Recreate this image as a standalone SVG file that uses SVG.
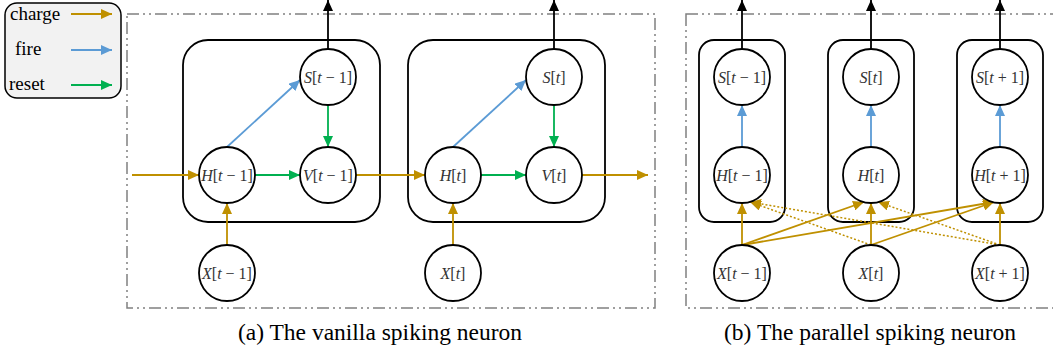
<svg xmlns="http://www.w3.org/2000/svg" width="1053" height="351" viewBox="0 0 1053 351">
<style>
.frame{fill:none;stroke:#808080;stroke-width:1.5;stroke-dasharray:12 4 2 4 2 4}
.cell{fill:none;stroke:#000;stroke-width:1.8}
.node{fill:#fff;stroke:#000;stroke-width:1.8}
.m{font-family:"Liberation Serif","Times New Roman",serif;font-size:16px;fill:#333;text-anchor:middle}
.i{font-style:italic}
.lg{font-family:"Liberation Serif","Times New Roman",serif;font-size:19px;fill:#000}
.cap{font-family:"Liberation Serif","Times New Roman",serif;font-size:23.5px;fill:#000;text-anchor:middle}
.out{stroke:#000;stroke-width:1.8;fill:none;marker-end:url(#ak)}
.ch{stroke:#BF9000;stroke-width:1.8;fill:none;marker-end:url(#ac)}
.chd{stroke:#BF9000;stroke-width:1.5;fill:none;stroke-dasharray:2 2;marker-end:url(#ac)}
.fi{stroke:#5B9BD5;stroke-width:1.8;fill:none;marker-end:url(#af)}
.re{stroke:#00B050;stroke-width:1.8;fill:none;marker-end:url(#ar)}
</style>
<defs>
<marker id="ak" markerUnits="userSpaceOnUse" markerWidth="12" markerHeight="10" refX="11" refY="5" orient="auto"><path d="M0,0 L11,5 L0,10 Z" fill="#000"/></marker>
<marker id="ac" markerUnits="userSpaceOnUse" markerWidth="12" markerHeight="10" refX="11" refY="5" orient="auto"><path d="M0,0 L11,5 L0,10 Z" fill="#BF9000"/></marker>
<marker id="af" markerUnits="userSpaceOnUse" markerWidth="12" markerHeight="10" refX="11" refY="5" orient="auto"><path d="M0,0 L11,5 L0,10 Z" fill="#5B9BD5"/></marker>
<marker id="ar" markerUnits="userSpaceOnUse" markerWidth="12" markerHeight="10" refX="11" refY="5" orient="auto"><path d="M0,0 L11,5 L0,10 Z" fill="#00B050"/></marker>
</defs>
<rect width="1053" height="351" fill="#fff"/>

<!-- legend -->
<g id="legend">
<rect x="5" y="3" width="116" height="95" rx="12" fill="#f2f2f2" stroke="#000" stroke-width="1.5"/>
<text class="lg" x="10" y="20">charge</text>
<text class="lg" x="15" y="55">fire</text>
<text class="lg" x="9" y="90">reset</text>
<line class="ch" x1="71" y1="14" x2="112" y2="14"/>
<line class="fi" x1="71" y1="50" x2="112" y2="50"/>
<line class="re" x1="71" y1="85" x2="112" y2="85"/>
</g>

<!-- frames -->
<g id="frames">
<rect class="frame" x="127" y="14" width="528" height="294"/>
<rect class="frame" x="686" y="14" width="370" height="294"/>
</g>

<!-- cells -->
<g id="cells">
<rect id="cell-a1" class="cell" x="183" y="40" width="197" height="182" rx="25"/>
<rect id="cell-a2" class="cell" x="408" y="40" width="197" height="182" rx="25"/>
<rect id="cell-b1" class="cell" x="699" y="40" width="86" height="182" rx="15"/>
<rect id="cell-b2" class="cell" x="828" y="40" width="86" height="182" rx="15"/>
<rect id="cell-b3" class="cell" x="957" y="40" width="86" height="182" rx="15"/>
</g>

<!-- connectors -->
<g id="connectors">
<!-- (a) -->
<line class="out" x1="328" y1="49" x2="328" y2="0"/>
<line class="out" x1="554" y1="49" x2="554" y2="0"/>
<line class="ch" x1="132" y1="175" x2="199" y2="175"/>
<line class="ch" x1="356" y1="175" x2="425" y2="175"/>
<line class="ch" x1="582" y1="175" x2="648" y2="175"/>
<line class="ch" x1="227" y1="245" x2="227" y2="203"/>
<line class="ch" x1="453" y1="245" x2="453" y2="203"/>
<line class="fi" x1="227" y1="147" x2="300" y2="80"/>
<line class="fi" x1="453" y1="147" x2="526" y2="80"/>
<line class="re" x1="255" y1="175" x2="300" y2="175"/>
<line class="re" x1="481" y1="175" x2="526" y2="175"/>
<line class="re" x1="328" y1="105" x2="328" y2="147"/>
<line class="re" x1="554" y1="105" x2="554" y2="147"/>
<!-- (b) -->
<line class="out" x1="742" y1="49" x2="742" y2="0"/>
<line class="out" x1="871" y1="49" x2="871" y2="0"/>
<line class="out" x1="1000" y1="49" x2="1000" y2="0"/>
<line class="fi" x1="742" y1="147" x2="742" y2="105"/>
<line class="fi" x1="871" y1="147" x2="871" y2="105"/>
<line class="fi" x1="1000" y1="147" x2="1000" y2="105"/>
<line class="ch" x1="742" y1="245" x2="742" y2="203"/>
<line class="ch" x1="871" y1="245" x2="871" y2="203"/>
<line class="ch" x1="1000" y1="245" x2="1000" y2="203"/>
<line class="ch" x1="742" y1="245" x2="864" y2="202"/>
<line class="ch" x1="742" y1="245" x2="994" y2="202"/>
<line class="ch" x1="871" y1="245" x2="994" y2="202"/>
<line class="chd" x1="871" y1="245" x2="750" y2="202"/>
<line class="chd" x1="1000" y1="245" x2="750" y2="202"/>
<line class="chd" x1="1000" y1="245" x2="878" y2="202"/>
</g>

<!-- nodes (a) -->
<g id="a-S1"><circle class="node" cx="328" cy="77" r="28"/><text class="m" x="328" y="83"><tspan class="i">S</tspan>[<tspan class="i">t</tspan> − 1]</text></g>
<g id="a-H1"><circle class="node" cx="227" cy="175" r="28"/><text class="m" x="227" y="181"><tspan class="i">H</tspan>[<tspan class="i">t</tspan> − 1]</text></g>
<g id="a-V1"><circle class="node" cx="328" cy="175" r="28"/><text class="m" x="328" y="181"><tspan class="i">V</tspan>[<tspan class="i">t</tspan> − 1]</text></g>
<g id="a-X1"><circle class="node" cx="227" cy="273" r="28"/><text class="m" x="227" y="279"><tspan class="i">X</tspan>[<tspan class="i">t</tspan> − 1]</text></g>
<g id="a-S2"><circle class="node" cx="554" cy="77" r="28"/><text class="m" x="554" y="83"><tspan class="i">S</tspan>[<tspan class="i">t</tspan>]</text></g>
<g id="a-H2"><circle class="node" cx="453" cy="175" r="28"/><text class="m" x="453" y="181"><tspan class="i">H</tspan>[<tspan class="i">t</tspan>]</text></g>
<g id="a-V2"><circle class="node" cx="554" cy="175" r="28"/><text class="m" x="554" y="181"><tspan class="i">V</tspan>[<tspan class="i">t</tspan>]</text></g>
<g id="a-X2"><circle class="node" cx="453" cy="273" r="28"/><text class="m" x="453" y="279"><tspan class="i">X</tspan>[<tspan class="i">t</tspan>]</text></g>

<!-- nodes (b) -->
<g id="b-S1"><circle class="node" cx="742" cy="77" r="28"/><text class="m" x="742" y="83"><tspan class="i">S</tspan>[<tspan class="i">t</tspan> − 1]</text></g>
<g id="b-H1"><circle class="node" cx="742" cy="175" r="28"/><text class="m" x="742" y="181"><tspan class="i">H</tspan>[<tspan class="i">t</tspan> − 1]</text></g>
<g id="b-X1"><circle class="node" cx="742" cy="273" r="28"/><text class="m" x="742" y="279"><tspan class="i">X</tspan>[<tspan class="i">t</tspan> − 1]</text></g>
<g id="b-S2"><circle class="node" cx="871" cy="77" r="28"/><text class="m" x="871" y="83"><tspan class="i">S</tspan>[<tspan class="i">t</tspan>]</text></g>
<g id="b-H2"><circle class="node" cx="871" cy="175" r="28"/><text class="m" x="871" y="181"><tspan class="i">H</tspan>[<tspan class="i">t</tspan>]</text></g>
<g id="b-X2"><circle class="node" cx="871" cy="273" r="28"/><text class="m" x="871" y="279"><tspan class="i">X</tspan>[<tspan class="i">t</tspan>]</text></g>
<g id="b-S3"><circle class="node" cx="1000" cy="77" r="28"/><text class="m" x="1000" y="83"><tspan class="i">S</tspan>[<tspan class="i">t</tspan> + 1]</text></g>
<g id="b-H3"><circle class="node" cx="1000" cy="175" r="28"/><text class="m" x="1000" y="181"><tspan class="i">H</tspan>[<tspan class="i">t</tspan> + 1]</text></g>
<g id="b-X3"><circle class="node" cx="1000" cy="273" r="28"/><text class="m" x="1000" y="279"><tspan class="i">X</tspan>[<tspan class="i">t</tspan> + 1]</text></g>

<g id="captions">
<text class="cap" x="380" y="340">(a) The vanilla spiking neuron</text>
<text class="cap" x="870" y="340">(b) The parallel spiking neuron</text>
</g>
</svg>
